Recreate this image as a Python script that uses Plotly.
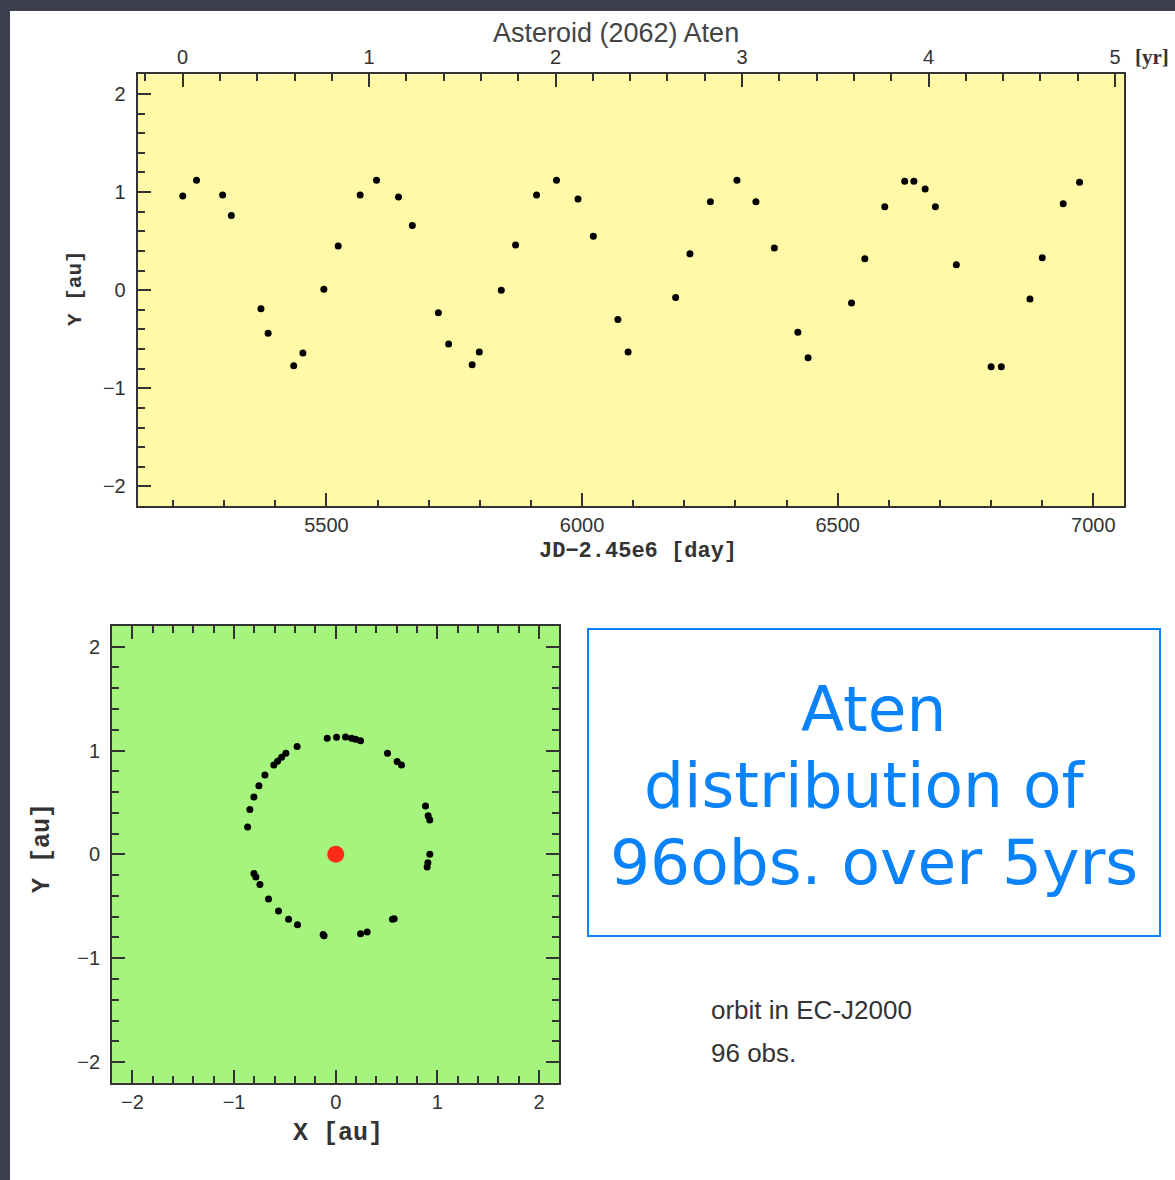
import plotly.graph_objects as go

# ---------------- data ----------------
jd_days = [5219, 5246, 5297, 5314, 5372, 5386, 5436, 5454, 5495, 5523, 5566, 5598,
           5641, 5668, 5719, 5739, 5785, 5799, 5842, 5870, 5911, 5950, 5992, 6022,
           6070, 6090, 6183, 6211, 6251, 6303, 6340, 6376, 6422, 6442, 6527, 6553,
           6592, 6631, 6649, 6671, 6691, 6732, 6800, 6820, 6876, 6900, 6941, 6973]
y_au = [0.96, 1.12, 0.97, 0.76, -0.19, -0.44, -0.77, -0.64, 0.01, 0.45, 0.97, 1.12,
        0.95, 0.66, -0.23, -0.55, -0.76, -0.63, 0.0, 0.46, 0.97, 1.12, 0.93, 0.55,
        -0.30, -0.63, -0.075, 0.37, 0.90, 1.12, 0.90, 0.43, -0.43, -0.69, -0.13, 0.32,
        0.85, 1.11, 1.11, 1.03, 0.85, 0.26, -0.78, -0.78, -0.09, 0.33, 0.88, 1.10]

orbit_x = [-0.084, 0.008, 0.096, 0.155, 0.195, 0.244, 0.509, 0.604, 0.647, 0.883,
           0.909, 0.925, 0.925, 0.906, 0.899, 0.558, 0.575, 0.244, 0.309, -0.124,
           -0.115, -0.376, -0.464, -0.563, -0.661, -0.746, -0.786, -0.805, -0.867,
           -0.845, -0.805, -0.756, -0.697, -0.609, -0.572, -0.533, -0.491, -0.38]
orbit_y = [1.119, 1.128, 1.131, 1.119, 1.109, 1.093, 0.974, 0.893, 0.861, 0.465,
           0.372, 0.33, 0.002, -0.082, -0.121, -0.626, -0.62, -0.764, -0.748, -0.773,
           -0.785, -0.677, -0.626, -0.545, -0.43, -0.291, -0.217, -0.184, 0.263,
           0.433, 0.552, 0.661, 0.764, 0.861, 0.897, 0.935, 0.974, 1.038]
sun_x = [0.0]
sun_y = [0.0]

year_ticks = [0, 1, 2, 3, 4, 5]
day_ticks = [5500, 6000, 6500, 7000]
au_ticks = [-2, -1, 0, 1, 2]

W, H = 1175, 1180


def px(x):
    return x / W


def py(y):
    return 1 - y / H


fig = go.Figure()

fig.add_trace(go.Scatter(x=jd_days, y=y_au, mode="markers", xaxis="x", yaxis="y",
                         marker=dict(color="black", size=7), showlegend=False))
fig.add_trace(go.Scatter(x=orbit_x, y=orbit_y, mode="markers", xaxis="x3", yaxis="y3",
                         marker=dict(color="black", size=7), showlegend=False))
fig.add_trace(go.Scatter(x=sun_x, y=sun_y, mode="markers", xaxis="x3", yaxis="y3",
                         marker=dict(color="#ff2a1a", size=17), showlegend=False))
# xaxis2 needs a trace to appear
fig.add_trace(go.Scatter(x=[0], y=[0], xaxis="x2", yaxis="y", mode="markers",
                         marker=dict(opacity=0), hoverinfo="skip", showlegend=False))

tickfont = dict(family="Liberation Sans", size=20, color="#333")
axcol = "#333"

common = dict(showgrid=False, zeroline=False, showline=True, linecolor=axcol, linewidth=2,
              ticks="inside", ticklen=13, tickwidth=1.5, tickcolor=axcol, tickfont=tickfont)


def minor(d, ln=7):
    return dict(dtick=d, ticklen=ln, tickcolor=axcol, ticks="inside")


fig.update_layout(
    width=W, height=H,
    margin=dict(l=0, r=0, t=0, b=0),
    paper_bgcolor="white",
    plot_bgcolor="#fff9a8",
    xaxis=dict(domain=[px(137.7), px(1124.3)], range=[5130.9, 7060.5], anchor="y",
               tickvals=day_ticks, minor=minor(100, 6), **common),
    xaxis2=dict(domain=[px(137.7), px(1124.3)], range=[-0.241, 5.050], anchor="y",
                overlaying="x", side="top", tickvals=year_ticks, minor=minor(0.2), **common),
    yaxis=dict(domain=[py(506), py(74.3)], range=[-2.2, 2.2], anchor="x",
               tickvals=au_ticks, mirror=True, ticklabelstandoff=6, minor=minor(0.2), **common),
    xaxis3=dict(domain=[px(112.1), px(559.4)], range=[-2.2, 2.2], anchor="y3",
                tickvals=au_ticks, mirror="ticks", minor=minor(0.2), **common),
    yaxis3=dict(domain=[py(1082.8), py(625.9)], range=[-2.2, 2.2], anchor="x3",
                tickvals=au_ticks, mirror="ticks", ticklabelstandoff=6, minor=minor(0.2), **common),
)

bg_dark = "#3c404c"
shapes = [
    dict(type="rect", xref="paper", yref="paper", x0=0, x1=px(10), y0=0, y1=1,
         fillcolor=bg_dark, line=dict(width=0), layer="below"),
    dict(type="rect", xref="paper", yref="paper", x0=0, x1=1, y0=py(11), y1=1,
         fillcolor=bg_dark, line=dict(width=0), layer="below"),
    dict(type="rect", xref="paper", yref="paper", x0=px(112.1), x1=px(559.4),
         y0=py(1082.8), y1=py(625.9), fillcolor="#a5f47e", line=dict(width=0), layer="below"),
    dict(type="rect", xref="paper", yref="paper", x0=px(588), x1=px(1160),
         y0=py(936), y1=py(629), line=dict(color="#0a82fa", width=2)),
]
fig.update_layout(shapes=shapes)

mono = "Liberation Mono"
anns = [
    dict(text="Asteroid (2062) Aten", x=px(616), y=py(33),
         font=dict(family="Liberation Sans", size=27, color="#444")),
    dict(text="<b>[yr]</b>", x=px(1152), y=py(57),
         font=dict(family="Liberation Serif", size=21, color="#333")),
    dict(text="<b>JD−2.45e6 [day]</b>", x=px(638), y=py(551),
         font=dict(family=mono, size=22, color="#333")),
    dict(text="<b>Y [au]</b>", x=px(75), y=py(288), textangle=-90,
         font=dict(family=mono, size=21, color="#333")),
    dict(text="<b>X [au]</b>", x=px(338), y=py(1133),
         font=dict(family=mono, size=25, color="#333")),
    dict(text="<b>Y [au]</b>", x=px(42), y=py(848), textangle=-90,
         font=dict(family=mono, size=25, color="#333")),
    dict(text="Aten", x=px(873), y=py(710),
         font=dict(family="DejaVu Sans", size=63, color="#0a82fa")),
    dict(text="distribution of", x=px(865), y=py(785),
         font=dict(family="DejaVu Sans", size=63, color="#0a82fa")),
    dict(text="96obs. over 5yrs", x=px(874), y=py(862),
         font=dict(family="DejaVu Sans", size=63, color="#0a82fa")),
    dict(text="orbit in EC-J2000", x=px(709), y=py(1010), xanchor="left",
         font=dict(family="Liberation Sans", size=26, color="#333")),
    dict(text="96 obs.", x=px(709), y=py(1053), xanchor="left",
         font=dict(family="Liberation Sans", size=26, color="#333")),
]
for a in anns:
    a.setdefault("xanchor", "center")
    a.update(xref="paper", yref="paper", yanchor="middle", showarrow=False)
fig.update_layout(annotations=anns)

fig.write_html("out.html")
